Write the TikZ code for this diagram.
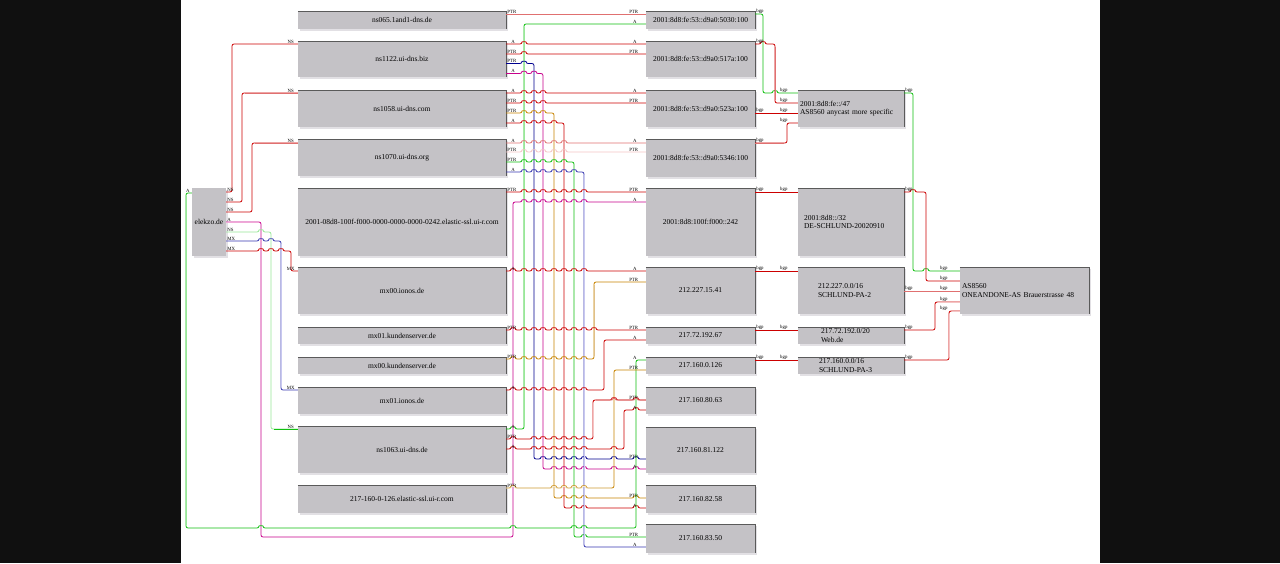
\documentclass[tikz,border=0pt]{standalone}
\usepackage{fontspec}
\setmainfont{Liberation Serif}
\usetikzlibrary{shadows}
\definecolor{rd}{HTML}{CC0000}
\definecolor{salm}{HTML}{E07070}
\definecolor{ppink}{HTML}{F4C4C4}
\definecolor{grn}{HTML}{10C010}
\definecolor{lgrn}{HTML}{98E898}
\definecolor{navy}{HTML}{000090}
\definecolor{blu}{HTML}{3838B0}
\definecolor{lav}{HTML}{C8C8F0}
\definecolor{mag}{HTML}{C8008C}
\definecolor{lpink}{HTML}{F0A8D8}
\definecolor{orng}{HTML}{C88400}
\definecolor{tanc}{HTML}{E0C088}
\definecolor{crm}{HTML}{F2EAD6}
\definecolor{boxc}{HTML}{C4C2C6}
\definecolor{shc}{HTML}{E2E0E4}
\definecolor{bdc}{HTML}{5A5A5A}
\definecolor{bgk}{HTML}{101010}
\newcommand\hj[2]{-- ({#1-2},#2) .. controls ({#1-2},{#2-2.3}) and ({#1+2},{#2-2.3}) .. ({#1+2},#2)}
\newcommand\hjs[2]{\foreach \hh in {#2}{\hj{\hh}{#1}}}
\tikzset{
  box/.style={fill=boxc, inner sep=0pt, align=center, font=\fontsize{7.5}{8.3}\selectfont,
    general shadow={fill=shc, shadow xshift=2pt, shadow yshift=-2pt}},
  ed/.style={line width=0.8pt, rounded corners=2pt},
  ov/.style={line width=0.8pt},
  pl/.style={font=\fontsize{4.8}{5}\selectfont, inner sep=0.3pt, text=black},
  sa/.style={pl, anchor=south, xshift=7pt},
  sp/.style={pl, anchor=south west, xshift=0.5pt},
  ha/.style={pl, anchor=south, xshift=-11pt},
  hp/.style={pl, anchor=south east, xshift=-7pt},
  bs/.style={pl, anchor=south west, xshift=0.5pt},
  bh/.style={pl, anchor=south, xshift=-14pt},
  ba/.style={pl, anchor=south, xshift=-16pt},
  hn/.style={pl, anchor=south, xshift=-7pt},
  el/.style={pl, anchor=south west, xshift=0.5pt},
  lA/.style={pl, anchor=south, xshift=-4pt},
  bord/.style={draw=bdc, line width=0.6pt},
}
\begin{document}
\begin{tikzpicture}[x=1pt,y=-1pt]
\useasboundingbox (0,0) rectangle (1280,563);
\fill[bgk] (0,0) rectangle (181,563);
\fill[bgk] (1100,0) rectangle (1280,563);
\fill[white] (181,0) rectangle (1100,563);

% left column
\node[box,minimum width=208pt,minimum height=17.5pt] (l065) at (402,19.75) {ns065.1and1-dns.de};
\node[box,minimum width=208pt,minimum height=36pt] (l1122) at (402,59) {ns1122.ui-dns.biz};
\node[box,minimum width=208pt,minimum height=37pt] (l1058) at (402,108.5) {ns1058.ui-dns.com};
\node[box,minimum width=208pt,minimum height=37pt] (l1070) at (402,157.5) {ns1070.ui-dns.org};
\node[box,minimum width=208pt,minimum height=68pt] (l2001) at (402,222) {2001-08d8-100f-f000-0000-0000-0000-0242.elastic-ssl.ui-r.com};
\node[box,minimum width=208pt,minimum height=47pt] (lmx00i) at (402,290.5) {mx00.ionos.de};
\node[box,minimum width=208pt,minimum height=17pt] (lmx01k) at (402,335.5) {mx01.kundenserver.de};
\node[box,minimum width=208pt,minimum height=17pt] (lmx00k) at (402,365.5) {mx00.kundenserver.de};
\node[box,minimum width=208pt,minimum height=27pt] (lmx01i) at (402,400.5) {mx01.ionos.de};
\node[box,minimum width=208pt,minimum height=47pt] (l1063) at (402,449.5) {ns1063.ui-dns.de};
\node[box,minimum width=208pt,minimum height=28pt] (l217) at (402,499) {217-160-0-126.elastic-ssl.ui-r.com};
\node[box,minimum width=34pt,minimum height=68pt] (elekzo) at (209,222) {elekzo.de};

% middle column
\node[box,minimum width=109pt,minimum height=18pt] (m5030) at (700.5,20) {2001:8d8:fe:53::d9a0:5030:100};
\node[box,minimum width=109pt,minimum height=36pt] (m517a) at (700.5,59) {2001:8d8:fe:53::d9a0:517a:100};
\node[box,minimum width=109pt,minimum height=37pt] (m523a) at (700.5,108.5) {2001:8d8:fe:53::d9a0:523a:100};
\node[box,minimum width=109pt,minimum height=38pt] (m5346) at (700.5,158) {2001:8d8:fe:53::d9a0:5346:100};
\node[box,minimum width=109pt,minimum height=68pt] (m242) at (700.5,222) {2001:8d8:100f:f000::242};
\node[box,minimum width=109pt,minimum height=47pt] (m1541) at (700.5,290.5) {212.227.15.41};
\node[box,minimum width=109pt,minimum height=17pt] (m19267) at (700.5,335.5) {217.72.192.67};
\node[box,minimum width=109pt,minimum height=17pt] (m0126) at (700.5,365.5) {217.160.0.126};
\node[box,minimum width=109pt,minimum height=27pt] (m8063) at (700.5,400.5) {217.160.80.63};
\node[box,minimum width=109pt,minimum height=46pt] (m81122) at (700.5,450) {217.160.81.122};
\node[box,minimum width=109pt,minimum height=28pt] (m8258) at (700.5,499) {217.160.82.58};
\node[box,minimum width=109pt,minimum height=29pt] (m8350) at (700.5,538.5) {217.160.83.50};

% prefix column
\node[box,align=left,text width=102pt,minimum width=106pt,minimum height=37pt] (r47) at (851,108.5) {2001:8d8:fe::/47\\AS8560 anycast more specific};
\node[box,align=left,text width=94pt,minimum width=106pt,minimum height=68pt] (r32) at (851,222) {2001:8d8::/32\\DE-SCHLUND-20020910};
\node[box,align=left,text width=66pt,minimum width=106pt,minimum height=47pt] (r212) at (851,290.5) {212.227.0.0/16\\SCHLUND-PA-2};
\node[box,align=left,text width=60pt,minimum width=106pt,minimum height=17pt] (r21772) at (851,335.5) {217.72.192.0/20\\Web.de};
\node[box,align=left,text width=64pt,minimum width=106pt,minimum height=17pt] (r217160) at (851,365.5) {217.160.0.0/16\\SCHLUND-PA-3};
\node[box,align=left,text width=125pt,minimum width=129pt,minimum height=47pt] (AS) at (1024.5,290.5) {AS8560\\ONEANDONE-AS Brauerstrasse 48};

\foreach \n in {l065,l1122,l1058,l1070,l2001,lmx00i,lmx01k,lmx00k,lmx01i,l1063,l217,
  m5030,m517a,m523a,m5346,m242,m1541,m19267,m0126,m8063,m81122,m8258,m8350,
  r47,r32,r212,r21772,r217160,AS}
  {\draw[bord] (\n.north west) -- (\n.north east) -- (\n.south east);}

% left column -> middle column
\draw[ed,salm] (l065.east|-0,14) node[sp]{PTR} -- (m5030.west|-0,14) node[hp]{PTR};
\draw[ed,grn] (l1063.east|-0,429) node[sa]{A} \hjs{429}{513} -- (524,429) -- (524,24) -- (m5030.west|-0,24) node[ha]{A};
\draw[ov,lgrn] (524,426) -- (524,27);
\draw[ed,rd] (l1122.east|-0,44) node[sa]{A} \hjs{44}{524} -- (m517a.west|-0,44) node[ha]{A};
\draw[ed,rd] (l1122.east|-0,54) node[sp]{PTR} \hjs{54}{524} -- (m517a.west|-0,54) node[hp]{PTR};
\draw[ed,navy] (l1122.east|-0,63.5) node[sp]{PTR} \hjs{63.5}{524} -- (534,63.5) -- (534,459) \hjs{459}{543,554,564,574,584,614,636} -- (m81122.west|-0,459) node[hp]{PTR};
\draw[ed,mag] (l1122.east|-0,73.5) node[sa]{A} \hjs{73.5}{524,534} -- (543,73.5) -- (543,469) \hjs{469}{554,564,574,584,614,636} -- (m81122.west|-0,469) node[ha]{A};
\draw[ed,rd] (l1058.east|-0,93) node[sa]{A} \hjs{93}{524,534,543} -- (m523a.west|-0,93) node[ha]{A};
\draw[ed,rd] (l1058.east|-0,103) node[sp]{PTR} \hjs{103}{524,534,543} -- (m523a.west|-0,103) node[hp]{PTR};
\draw[ed,orng] (l1058.east|-0,113) node[sp]{PTR} \hjs{113}{524,534,543} -- (554,113) -- (554,498) \hjs{498}{564,574,584,636} -- (m8258.west|-0,498) node[hp]{PTR};
\draw[ed,rd] (l1058.east|-0,123) node[sa]{A} \hjs{123}{524,534,543,554} -- (564,123) -- (564,508) \hjs{508}{574,584,636} -- (m8258.west|-0,508) node[ha]{A};
\draw[ed,salm] (l1070.east|-0,143) node[sa]{A} \hjs{143}{524,534,543,554,564} -- (m5346.west|-0,143) node[ha]{A};
\draw[ed,ppink] (l1070.east|-0,152) node[sp]{PTR} \hjs{152}{524,534,543,554,564} -- (m5346.west|-0,152) node[hp]{PTR};
\draw[ed,grn] (l1070.east|-0,162) node[sp]{PTR} \hjs{162}{524,534,543,554,564} -- (574,162) -- (574,537) \hjs{537}{584} -- (m8350.west|-0,537) node[hp]{PTR};
\draw[ed,blu] (l1070.east|-0,172) node[sa]{A} \hjs{172}{524,534,543,554,564,574} -- (584,172) -- (584,547) -- (m8350.west|-0,547) node[ha]{A};
\draw[ov,lav] (584,175) -- (584,544);
\draw[ed,rd] (l2001.east|-0,192) node[sp]{PTR} \hjs{192}{524,534,543,554,564,574,584} -- (m242.west|-0,192) node[hp]{PTR};
\draw[ed,mag] (elekzo.east|-0,222) node[el]{A} -- (261,222) -- (261,537) -- (513,537) -- (513,202) \hjs{202}{524,534,543,554,564,574,584} -- (m242.west|-0,202) node[ha]{A};
\draw[ov,lpink] (elekzo.east|-0,222) -- (258,222);
\draw[ed,rd] (lmx00i.east|-0,271) node[sa]{A} \hjs{271}{513,524,534,543,554,564,574,584} -- (m1541.west|-0,271) node[ha]{A};
\draw[ed,orng] (lmx00k.east|-0,359) node[sp]{PTR} \hjs{359}{513,524,534,543,554,564,574,584} -- (594,359) -- (594,282) -- (m1541.west|-0,282) node[hp]{PTR};
\draw[ov,tanc] (594,356) -- (594,285);
\draw[ed,rd] (lmx01k.east|-0,330) node[sp]{PTR} \hjs{330}{513,524,534,543,554,564,574,584,594} -- (m19267.west|-0,330) node[hp]{PTR};
\draw[ed,rd] (lmx01i.east|-0,390) node[sa]{A} \hjs{390}{513,524,534,543,554,564,574,584} -- (604,390) -- (604,340) -- (m19267.west|-0,340) node[ha]{A};
\draw[ed,grn] (elekzo.west|-0,193) node[lA]{A} -- (186,193) -- (186,528) \hjs{528}{261,513,574,584} -- (636,528) -- (636,360) -- (m0126.west|-0,360) node[ha]{A};
\draw[ov,lgrn] (186,196) -- (186,525);
\draw[ed,orng] (l217.east|-0,488) node[sp]{PTR} \hjs{488}{513,554,564,574,584} -- (614,488) -- (614,370) -- (m0126.west|-0,370) node[hp]{PTR};
\draw[ov,crm] (l217.east|-0,488) \hjs{488}{513,554,564,574,584} -- (611,488);
\draw[ed,rd] (l1063.east|-0,439) node[sp]{PTR} \hjs{439}{513,534,543,554,564,574,584} -- (593,439) -- (593,400) \hjs{400}{614,636} -- (m8063.west|-0,400) node[hp]{PTR};
\draw[ov,ppink] (593,436) -- (593,403);
\draw[ov,salm] (596,400) \hjs{400}{614,636} -- (m8063.west|-0,400);
\draw[ed,rd] (l1063.east|-0,449) node[sa]{A} \hjs{449}{513,534,543,554,564,574,584,614} -- (624,449) -- (624,410) \hjs{410}{636} -- (m8063.west|-0,410) node[ha]{A};

% elekzo.de -> left column
\draw[ed,rd] (elekzo.east|-0,192) node[el]{NS} -- (232,192) -- (232,44) -- (l1122.west|-0,44) node[hn]{NS};
\draw[ed,rd] (elekzo.east|-0,202) node[el]{NS} -- (242,202) -- (242,93) -- (l1058.west|-0,93) node[hn]{NS};
\draw[ov,salm] (245,93) -- (l1058.west|-0,93);
\draw[ed,rd] (elekzo.east|-0,212) node[el]{NS} -- (252,212) -- (252,143) -- (l1070.west|-0,143) node[hn]{NS};
\draw[ov,salm] (255,143) -- (l1070.west|-0,143);
\draw[ed,lgrn] (elekzo.east|-0,232) node[el]{NS} \hjs{232}{261} -- (271,232) -- (271,429) -- (l1063.west|-0,429) node[hn]{NS};
\draw[ov,grn] (274,429) -- (l1063.west|-0,429);
\draw[ed,blu] (elekzo.east|-0,241) node[el]{MX} \hjs{241}{261,271} -- (281,241) -- (281,390) -- (lmx01i.west|-0,390) node[hn]{MX};
\draw[ov,lav] (281,244) -- (281,387);
\draw[ed,rd] (elekzo.east|-0,251) node[el]{MX} \hjs{251}{261,271,281} -- (291,251) -- (291,271) -- (lmx00i.west|-0,271) node[hn]{MX};

% middle -> prefixes -> AS
\draw[ed,grn] (m5030.east|-0,14) node[bs]{bgp} -- (763,14) -- (763,93) \hjs{93}{775} -- (r47.west|-0,93) node[bh]{bgp};
\draw[ed,rd] (m517a.east|-0,44) node[bs]{bgp} \hjs{44}{763} -- (775,44) -- (775,103) -- (r47.west|-0,103) node[bh]{bgp};
\draw[ov,salm] (775,47) -- (775,100);
\draw[ed,rd] (m523a.east|-0,113) node[bs]{bgp} -- (r47.west|-0,113) node[bh]{bgp};
\draw[ed,rd] (m5346.east|-0,143) node[bs]{bgp} -- (787,143) -- (787,123) -- (r47.west|-0,123) node[bh]{bgp};
\draw[ov,salm] (m5346.east|-0,143) -- (784,143);
\draw[ed,grn] (r47.east|-0,93) node[bs]{bgp} -- (913,93) -- (913,271) \hjs{271}{926} -- (AS.west|-0,271) node[ba]{bgp};
\draw[ed,rd] (m242.east|-0,192) node[bs]{bgp} -- (r32.west|-0,192) node[bh]{bgp};
\draw[ed,rd] (r32.east|-0,192) node[bs]{bgp} \hjs{192}{913} -- (926,192) -- (926,281) -- (AS.west|-0,281) node[ba]{bgp};
\draw[ed,rd] (m1541.east|-0,271) node[bs]{bgp} -- (r212.west|-0,271) node[bh]{bgp};
\draw[ed,salm] (r212.east|-0,291) node[bs]{bgp} -- (AS.west|-0,291) node[ba]{bgp};
\draw[ed,rd] (m19267.east|-0,330) node[bs]{bgp} -- (r21772.west|-0,330) node[bh]{bgp};
\draw[ed,rd] (r21772.east|-0,330) node[bs]{bgp} -- (935,330) -- (935,302) -- (AS.west|-0,302) node[ba]{bgp};
\draw[ov,ppink] (938,302) -- (AS.west|-0,302);
\draw[ed,rd] (m0126.east|-0,360) node[bs]{bgp} -- (r217160.west|-0,360) node[bh]{bgp};
\draw[ed,rd] (r217160.east|-0,360) node[bs]{bgp} -- (949,360) -- (949,311) -- (AS.west|-0,311) node[ba]{bgp};
\draw[ov,ppink] (949,357) -- (949,314);
\draw[ov,ppink] (952,311) -- (AS.west|-0,311);
\end{tikzpicture}
\end{document}
